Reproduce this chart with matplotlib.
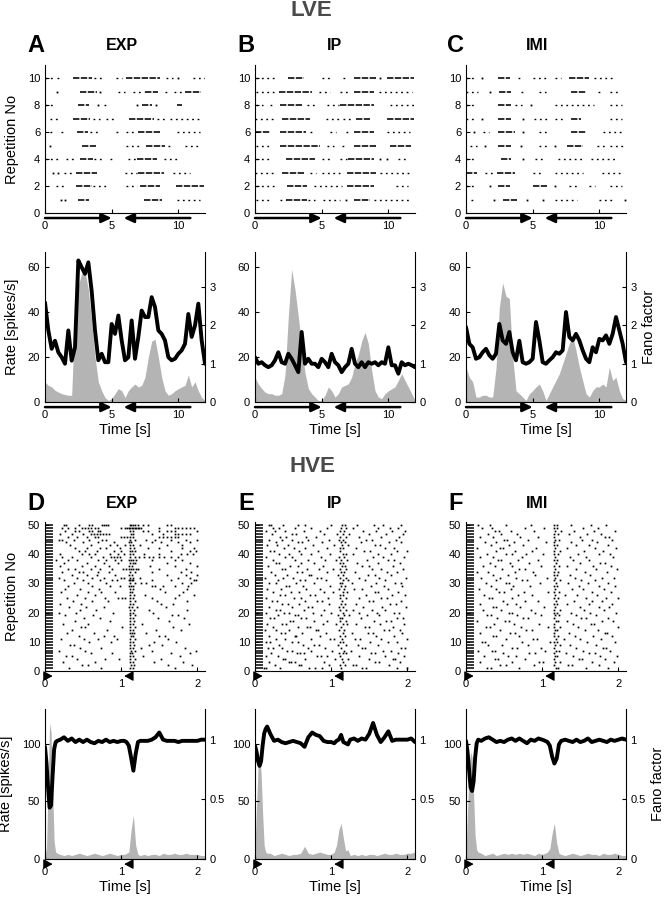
import matplotlib
matplotlib.use("Agg")
import matplotlib.pyplot as plt
import numpy as np

plt.rcParams['font.family'] = ['Liberation Sans', 'DejaVu Sans']
plt.rcParams['axes.linewidth'] = 0.8

# ------------------------------------------------------------------ data
cond_titles = ["EXP", "IP", "IMI"]
lve_letters = ["A", "B", "C"]
hve_letters = ["D", "E", "F"]

# LVE rasters: one string per repetition (1..10); "a-b" dense burst, "a~b" sparse spikes, "a" single spike [s]
lve_raster_exp = [
    "1.2 1.5 2.5-3.3 7.4-8.8 9.9~11.6",
    "0.8~1.6 2.3-3.5 3.6~4.8 6.1~6.9 7.1-8.6 9.8-11.9",
    "0.6 1.0 1.4~2.0 2.3-3.9 6.0~6.9 7.0-8.9 9.6~10.9",
    "0~1.2 1.6~2.3 2.6-3.6 3.7~4.4 4.9~5.2 6.2~6.8 6.9-8.4 8.9~10.1",
    "0.4 2.8-3.8 6.1~7.1 7.6-9.0 9.2~9.6 10.5~11.6",
    "0.4~0.6 1.2~1.6 2.4-3.2 3.4~4.1 5.3~5.5 6.1~6.8 7.0-8.6 9.9~11.6",
    "0.4~1.1 2.1-3.4 3.6~4.1 4.6~5.3 6.3-8.2 8.4~9.1 9.4~11.6",
    "0~0.6 2.5-3.3 4.0 4.4~4.6 6.9 7.3-8.0 8.3 9.9-10.3",
    "0.9 2.6-3.9 4.1 5.5~6.0 6.6~7.4 7.5-8.5 9.0~9.3 9.7~10.3 10.5-11.7",
    "0~0.6 0.9~1.2 2.1-3.5 3.7~4.4 5.3~5.8 6.1-8.6 9.1~9.6 10.0 11.1~12",
]
lve_raster_ip = [
    "0.1~1.1 1.9~2.3 2.3-3.9 4.0~4.5 5.1~6.4 6.8 7.4-8.6 8.9~11.6",
    "0.1~1.5 2.4-3.9 4.4~6.5 6.9-8.9 10.6~11.5",
    "0~1.5 2.0-3.7 4.1~4.6 5.0~6.4 6.9-9.1 9.4~11.6",
    "0.1~1.1 2.3-4.5 5.0~5.6 6.4~6.9 7.0-8.9 9.4 9.9 10.7~11.5",
    "0.1~1.3 1.9-4.9 5.4~5.9 6.5~6.9 7.4-9.1 10.1-11.7",
    "0-1.1 1.9-3.8 4.1~4.4 5.6~6.1 6.8~7.2 7.4-8.9 9.9~11.6",
    "0~1.4 2.0-4.1 5.3~6.3 6.6~7.2 7.6-8.6 9.9-11.9",
    "0.1~0.6 1.1~1.5 1.9-3.5 3.9~4.5 5.4~6.3 6.4-8.9 10.1~11.9",
    "0.1~1.5 1.8-4.3 4.8~5.6 6.4~7.1 7.4-8.9 9.3~11.8",
    "0.1~1.5 2.5-3.7 5.0~5.6 6.6~7.0 7.4-9.1 9.4 9.9-11.9",
]
lve_raster_imi = [
    "0.4~0.7 2.1 2.8-3.8 4.6 5.8 6.7~8.3 10.0~11.0 11.9",
    "0~0.6 1.8 2.4-3.3 5.0-6.1 6.7 7.7~8.3 9.2~9.7 10.8~11.7",
    "0-0.8 1.4~2.1 2.3-3.7 5.0~5.7 6.7~8.8 10.2~11.6",
    "0~0.7 2.6-3.4 4.3 5.2~5.8 6.9~8.9 9.4~11.2",
    "0.3~0.8 1.4 2.4-3.4 4.1 5.5~6.1 6.7 7.6-8.8 9.8~10.6 10.8~11.8",
    "0.6 1.3~1.7 2.4-3.7 4.3 5.5~6.1 7.9-9.0 10.3~11.7",
    "0~0.6 1.2 2.4-3.4 4.3 5.1~6.2 6.7~7.4 7.9-8.6 10.8~11.7",
    "0~0.6 2.4-3.4 3.7~4.2 4.9 6.7~9.6 10.8~11.7",
    "0~0.9 1.8 2.5-3.4 4.1~4.4 5.5~6.0 7.9-9.0 9.9~10.2 10.8~11.4",
    "0~0.6 1.2 2.4-3.3 3.9~4.2 5.0~6.2 6.7~7.1 7.7-9.2 9.6~11.1",
]

# HVE rasters: onset burst window [s] and further spike times [cs] per repetition (1..50)
hve_onset = [(0.01, 0.11), (0.01, 0.10), (0.01, 0.10)]
hve_raster_exp = [
    "31 73 112 116 171", "48 57 113 117 162 193", "23 66 112 115 143 181",
    "42 79 97 111 118 152", "27 36 112 116 129 177", "61 88 111 114 166 190",
    "19 52 113 118 141 198", "46 74 112 116 126 184", "33 38 111 117 137 154",
    "58 86 112 115 143 172", "21 51 69 94 112 118 161", "44 77 91 113 116 149 158",
    "29 64 112 114 117 133", "36 82 112 116 146 179", "47 53 101 112 118 168",
    "24 57 111 116 127 189", "39 85 111 117 163", "51 72 112 115 148 183",
    "26 63 112 118 167 174", "18 41 89 112 116 142", "46 67 112 117 136 187",
    "32 54 78 110 114 121 159", "20 47 112 116 152 168", "37 62 83 112 118 147 186",
    "29 53 79 96 101 105 112 115 141 171", "42 66 112 117 131 176 196",
    "21 57 74 92 111 114 158 181", "26 46 71 112 116 151 187",
    "30 62 85 98 110 113 116 140 145 155 170 188", "38 56 80 112 118 126 132 180 192",
    "25 50 72 88 94 110 112 114 116 140 165 195 198", "18 42 62 78 100 104 112 115 125 175 190",
    "35 55 68 92 110 114 160 185 200", "22 45 50 70 84 112 118 140 178 192",
    "30 40 60 72 88 102 106 110 113 116 119 122 150 185", "20 48 66 84 110 114 138 170 200",
    "25 55 78 96 112 115 118 160 190", "15 30 42 70 80 92 100 110 113 116 120 140 170 180",
    "22 36 60 76 86 90 94 98 112 118 124 130 136 142 150 156 165 175",
    "20 48 58 65 85 96 104 112 116 130 150 178 186 194", "45 52 68 90 100 111 114 118 165 190 198",
    "40 55 72 80 98 112 117 135 150 180 195", "33 60 85 95 105 112 116 125 160 180",
    "28 50 70 90 110 113 140 152 175 190", "18 22 38 58 75 80 112 118 132 145 165 185 200",
    "30 42 55 65 70 100 104 108 112 116 150 155 160 165 170 175",
    "20 35 50 60 64 68 72 76 80 84 113 116 140 155 170 175 180 185 190",
    "26 40 44 58 62 70 72 112 115 128 135 150 160 165 170 200",
    "22 30 40 48 52 56 60 65 70 100 105 108 110 112 114 116 118 120 122 124 126 150 170 175 180 185 190 195",
    "25 28 45 58 62 75 78 80 83 112 113 115 118 122 128 135 160 165",
]
hve_raster_ip = [
    "12 15 33 71 79 88 113 140 146 187 199", "26 58 61 97 111 118 129 133 176",
    "19 44 47 52 90 116 158 163 190", "37 39 66 105 114 122 149 181 184",
    "14 30 81 86 95 112 137 171 196", "21 55 59 64 110 115 119 152 157 188",
    "42 48 73 101 117 126 168 179", "17 24 36 69 92 113 141 144 192 197",
    "31 63 77 84 109 120 135 161", "15 20 49 57 112 116 151 174 186",
    "28 40 74 99 104 114 131 138 166 199", "19 52 54 85 111 118 159 183",
    "34 39 62 93 115 127 148 155 193", "13 27 44 80 83 110 117 169 176 190",
    "23 57 68 72 113 145 150 181", "16 35 41 89 106 116 121 133 164 196",
    "46 50 78 94 112 119 156 172 178", "20 25 60 67 111 114 139 186 194",
    "30 53 56 87 109 117 124 147 163", "14 38 45 76 100 115 136 160 182 189",
    "27 33 64 91 112 120 128 153 171", "18 49 70 75 110 116 142 167 198",
    "36 43 58 97 113 118 132 177 185", "22 29 65 82 88 114 150 155 192",
    "15 51 61 96 111 119 137 165 173", "33 40 72 79 112 116 146 180 197",
    "24 47 58 90 103 115 121 158 162 188", "16 34 67 85 110 117 130 141 175",
    "41 45 63 98 113 118 152 169 193", "19 28 54 77 111 114 127 159 184 191",
    "30 59 66 93 116 122 144 170", "13 37 50 81 87 112 119 136 163 198",
    "26 42 71 74 109 115 148 157 179", "21 55 62 95 113 117 131 173 187",
    "35 39 68 84 102 111 120 154 166 194", "17 46 57 89 114 118 140 149 181",
    "28 31 60 78 112 116 134 161 190", "23 52 69 92 106 113 121 147 175 183",
    "14 40 48 86 110 117 155 168 196", "32 44 61 73 99 115 119 129 162 178",
    "20 25 58 83 112 143 151 186 199", "38 51 65 94 111 116 133 170 182",
    "16 29 43 76 104 114 122 157 164", "27 56 62 88 113 118 139 176 192",
    "19 35 49 70 97 110 115 146 153 185", "33 41 67 80 112 120 137 165 189",
    "22 48 54 91 107 116 124 150 172 194", "15 26 39 64 85 111 117 142 159 180 197",
    "24 31 53 74 95 113 119 128 161 177 188", "18 21 37 57 66 100 114 118 134 156 168 192",
]
hve_raster_imi = [
    "27 33 70 118 121 158 187", "45 52 89 116 134 139 175",
    "18 61 96 101 117 123 166 194", "38 42 77 115 148 152 183",
    "23 55 66 117 120 141 176 198", "49 83 91 116 131 162 169",
    "16 34 38 104 118 122 153 189", "60 67 99 115 145 180 184",
    "29 47 82 117 124 137 171", "21 25 74 110 116 119 159 196",
    "53 88 93 118 128 150 177", "35 40 69 115 121 143 167 191",
    "19 58 64 116 135 182 185", "44 79 86 117 120 156 173",
    "26 31 72 107 115 123 147 199", "37 63 96 116 140 164 168",
    "15 51 56 118 121 132 179 193", "41 75 82 115 151 158 186",
    "28 33 67 98 117 122 144 170", "57 61 90 116 119 138 163 197",
    "22 46 85 115 124 155 181", "36 39 71 103 117 149 174 188",
    "18 54 65 116 120 133 161 192", "48 78 94 118 142 166 178",
    "30 34 60 115 121 157 184 199", "24 68 87 117 130 146 172",
    "43 50 76 108 116 122 165 190", "17 39 59 117 139 153 181",
    "33 62 84 115 120 148 175 195", "26 52 57 97 118 134 160 187",
    "40 73 80 116 123 151 169", "20 45 66 106 117 143 179 194",
    "35 55 91 115 119 137 163", "14 29 64 88 116 121 156 185",
    "47 70 77 117 145 171 198", "22 38 60 99 115 122 132 167 190",
    "31 58 83 118 150 176 183", "42 46 68 95 116 120 141 162",
    "19 35 73 117 136 158 193", "27 52 61 79 101 115 121 147 174 189",
    "39 64 86 116 123 155 180", "15 44 48 92 117 133 169 197",
    "33 57 75 115 120 144 161 186", "25 40 63 105 116 138 172",
    "50 54 81 117 122 152 165 191", "18 36 71 94 115 149 182 188",
    "29 46 67 116 121 135 159 177", "38 43 59 89 117 125 142 168 195",
    "21 34 78 102 115 119 154 173", "16 31 52 85 116 120 138 164 184",
]

# LVE rate / Fano factor, sampled every 0.25 s from 0 to 12 s
lve_t = np.linspace(0, 12, 49)
lve_rate_exp = [8.9, 7.4, 6.7, 5.2, 4.4, 3.7, 3.3, 3.0, 3.0, 40, 52, 57, 58, 50, 36, 20, 9,
                5, 2, 0.7, 1.5, 3.7, 6, 5, 2, 5, 6.7, 8, 6.7, 7.4, 11, 20, 27, 28, 20, 11,
                5, 3, 3.7, 5, 5.9, 6.7, 7.4, 12, 6.7, 9, 5, 2, 0.7]
lve_fano_exp = [2.6, 1.87, 1.39, 1.6, 1.3, 1.17, 1.0, 1.87, 1.08, 1.43, 3.7, 3.52, 3.35, 3.65,
                2.9, 1.87, 1.09, 1.26, 1.04, 1.04, 2.04, 1.78, 2.26, 1.61, 1.09, 1.17, 2.13,
                1.13, 1.70, 2.39, 2.22, 2.22, 2.74, 2.48, 1.87, 1.78, 1.61, 1.17, 1.09, 1.13,
                1.26, 1.35, 1.52, 2.3, 1.70, 2.0, 2.57, 1.61, 1.0]
lve_rate_ip = [11, 8, 6, 4.4, 3.7, 3.7, 3, 3, 3.7, 12, 38, 59, 50, 38, 25, 13, 6,
               3.7, 2.2, 0.7, 0.7, 3, 6.7, 5, 2.2, 3.7, 6.7, 7.4, 8.1, 11, 17, 21, 27,
               31, 26, 14, 5, 2.2, 1.5, 3.7, 5, 5.9, 6.7, 9.6, 12.6, 9.6, 6.7, 3.7, 0.7]
lve_fano_ip = [1.17, 1.0, 1.04, 0.96, 0.91, 0.96, 1.09, 1.3, 1.04, 1.0, 1.26, 1.13, 0.96,
               0.78, 1.83, 1.0, 1.13, 1.0, 1.0, 0.91, 1.13, 1.04, 0.91, 1.26, 1.04, 0.96,
               0.78, 0.91, 1.0, 1.39, 1.0, 0.91, 1.04, 0.91, 1.04, 1.0, 1.04, 0.96, 1.04,
               1.0, 1.43, 0.96, 0.96, 0.74, 1.04, 0.96, 1.0, 0.96, 0.91]
lve_rate_imi = [15.5, 11, 9, 2.2, 2.2, 3, 3, 2.2, 2.2, 15, 42, 53, 47, 46, 20, 5, 3.7,
                2.2, 0.7, 3.7, 5, 6.7, 8, 5, 0.7, 3.7, 6.7, 9.6, 12.6, 17, 21.5, 26, 29,
                23, 15.5, 9.6, 3.7, 2.2, 5, 6.7, 6.7, 8, 6.7, 15.5, 9.6, 11, 5, 1.5, 0.7]
lve_fano_imi = [1.96, 1.52, 1.43, 1.13, 1.17, 1.3, 1.39, 1.22, 1.13, 1.26, 2.04, 1.61,
                1.52, 1.83, 1.30, 1.09, 1.6, 1.04, 1.0, 1.04, 1.13, 2.09, 1.61, 1.04, 1.0,
                1.09, 1.17, 1.30, 1.26, 1.35, 2.35, 1.70, 1.61, 1.78, 1.61, 1.35, 1.13,
                1.04, 1.43, 1.30, 1.65, 1.61, 1.74, 1.52, 1.78, 2.22, 1.87, 1.52, 1.04]

# HVE rate / Fano factor
hve_t = [0, 0.02, 0.04, 0.06, 0.08, 0.1, 0.12, 0.14, 0.16, 0.2, 0.25, 0.3, 0.35, 0.4, 0.45,
         0.5, 0.55, 0.6, 0.65, 0.7, 0.75, 0.8, 0.85, 0.9, 0.95, 1.0, 1.04, 1.07, 1.1, 1.13,
         1.16, 1.19, 1.22, 1.25, 1.3, 1.35, 1.4, 1.45, 1.5, 1.55, 1.6, 1.65, 1.7, 1.75, 1.8,
         1.85, 1.9, 1.95, 2.0, 2.05, 2.1]
hve_rate_exp = [3, 10, 60, 118, 110, 60, 15, 6, 5, 4, 3, 4, 3, 4, 5, 4, 3, 4, 5, 4, 3, 4, 5,
                4, 3, 4, 4, 5, 6, 25, 38, 12, 4, 3, 4, 3, 4, 4, 3, 5, 4, 4, 5, 4, 4, 5, 4, 4,
                4, 3, 3]
hve_fano_exp = [0.94, 0.8, 0.6, 0.43, 0.45, 0.7, 0.92, 0.98, 0.99, 1.0, 1.02, 0.99, 1.01,
                0.98, 1.0, 0.98, 1.0, 0.98, 0.97, 0.99, 0.98, 1.0, 0.98, 0.99, 0.98, 0.99,
                0.99, 0.98, 0.95, 0.85, 0.74, 0.88, 0.98, 0.99, 0.99, 0.99, 1.0, 1.02, 1.06,
                1.0, 0.99, 0.99, 0.99, 0.98, 0.99, 0.99, 0.99, 0.99, 0.99, 1.0, 1.0]
hve_rate_ip = [10, 45, 80, 87, 75, 40, 12, 6, 5, 5, 3, 4, 5, 4, 3, 4, 4, 5, 11, 5, 4, 5, 6,
               5, 4, 4, 6, 12, 25, 31, 18, 7, 8, 3, 4, 3, 4, 3, 4, 4, 3, 4, 5, 4, 4, 5, 4, 4,
               5, 5, 6]
hve_fano_ip = [0.95, 0.9, 0.82, 0.78, 0.82, 0.95, 1.05, 1.09, 1.11, 1.05, 0.99, 1.0, 0.98,
               0.97, 0.98, 0.99, 0.98, 0.97, 0.94, 1.02, 1.06, 1.04, 1.03, 0.99, 0.98, 0.98,
               0.97, 0.99, 1.0, 1.04, 0.98, 0.97, 0.96, 1.0, 1.01, 0.99, 1.01, 1.0, 1.05, 1.14,
               1.04, 0.98, 1.02, 1.07, 0.99, 1.0, 1.0, 1.0, 1.0, 1.01, 0.98]
hve_rate_imi = [8, 40, 80, 93, 88, 55, 20, 8, 6, 5, 3, 4, 5, 3, 4, 5, 4, 5, 4, 5, 4, 5, 4,
                3, 5, 4, 5, 6, 9, 22, 31, 14, 5, 4, 3, 4, 5, 4, 3, 4, 5, 4, 4, 3, 5, 4, 4, 5,
                4, 3, 3]
hve_fano_imi = [0.99, 0.9, 0.75, 0.6, 0.57, 0.65, 0.85, 0.97, 1.0, 0.99, 1.01, 1.02, 1.0,
                0.98, 0.99, 0.98, 1.0, 1.01, 0.99, 1.01, 0.99, 0.97, 1.0, 0.99, 1.01, 1.0,
                0.99, 0.98, 0.95, 0.86, 0.8, 0.84, 0.96, 0.99, 1.0, 0.99, 0.98, 1.0, 0.98,
                0.99, 1.01, 0.98, 0.99, 1.0, 0.99, 0.98, 1.0, 0.99, 1.0, 1.01, 1.0]

# stimulus direction arrows (start, end) in s
lve_arrows = [(0.0, 5.0), (10.9, 5.9)]
hve_arrows = [(0.0, 0.1), (1.15, 1.04)]

# ------------------------------------------------------------------ layout helpers
W, H = 665.0, 899.0
fig = plt.figure(figsize=(6.65, 8.99), dpi=100)
GRAY = '#b4b4b4'
TICK_FS = 8
LAB_FS = 10.5


def px_axes(left, top, w, h):
    return fig.add_axes([left / W, 1 - (top + h) / H, w / W, h / H])


def style(ax):
    for s in ['top', 'right']:
        ax.spines[s].set_visible(False)
    ax.tick_params(direction='in', length=3, width=0.8, labelsize=TICK_FS, pad=3.5)
    ax.tick_params(axis='x', pad=6)


def arrows(ax, spans, big):
    y = -0.034
    if big:
        st = '-|>,head_length=0.6,head_width=0.28'
        lw = 1.8
    else:
        st = '-|>,head_length=0.55,head_width=0.3'
        lw = 0.8
    for a, b in spans:
        ax.annotate('', xy=(b, y), xytext=(a, y),
                    xycoords=('data', 'axes fraction'), textcoords=('data', 'axes fraction'),
                    annotation_clip=False,
                    arrowprops=dict(arrowstyle=st, lw=lw, color='k', shrinkA=0, shrinkB=0))


def parse_segments(s):
    out = []
    for tok in s.split():
        if '-' in tok:
            a, b = tok.split('-')
            out.append(('d', float(a), float(b)))
        elif '~' in tok:
            a, b = tok.split('~')
            out.append(('s', float(a), float(b)))
        else:
            out.append(('p', float(tok), float(tok)))
    return out


def lve_raster(ax, trials):
    for i, s in enumerate(trials):
        rep = i + 1
        for kind, a, b in parse_segments(s):
            if kind == 'd':
                ax.plot([a, b], [rep, rep], color='k', lw=1.15, ls=(0, (4, 0.9)),
                        dash_capstyle='butt')
            elif kind == 's':
                ax.plot([a, b], [rep, rep], color='k', lw=1.0, ls=(0, (1.3, 2.6)),
                        dash_capstyle='butt')
            else:
                ax.plot([a], [rep], 's', color='k', ms=1.3, mew=0)
    ax.set_xlim(0, 12)
    ax.set_ylim(0, 11)
    ax.set_xticks([0, 5, 10])
    ax.set_yticks([0, 2, 4, 6, 8, 10])


def hve_raster(ax, trials, onset):
    for i, s in enumerate(trials):
        rep = i + 1
        ax.plot([onset[0], onset[1]], [rep, rep], color='k', lw=1.1, solid_capstyle='butt')
        times = [float(v) / 100.0 for v in s.split()]
        ax.plot(times, [rep] * len(times), 's', color='k', ms=1.25, mew=0)
    ax.set_xlim(0, 2.1)
    ax.set_ylim(0, 51)
    ax.set_xticks([0, 1, 2])
    ax.set_yticks([0, 10, 20, 30, 40, 50])


def rate_panel(ax, t, rate, fano, xlim, ylim_l, ylim_r, yt_l, yt_r, xt, fano_label):
    ax.fill_between(t, 0, rate, color=GRAY, lw=0)
    ax.set_xlim(*xlim)
    ax.set_ylim(*ylim_l)
    ax.set_xticks(xt)
    ax.set_yticks(yt_l)
    style(ax)
    ax2 = ax.twinx()
    ax2.plot(t, fano, color='k', lw=2.8, solid_joinstyle='round', solid_capstyle='round')
    ax2.set_ylim(*ylim_r)
    ax2.set_yticks(yt_r)
    ax2.set_yticklabels([('%g' % v) for v in yt_r])
    for s in ['top', 'left', 'bottom']:
        ax2.spines[s].set_visible(False)
    ax2.tick_params(axis='y', direction='in', length=3, width=0.8, labelsize=TICK_FS, pad=3)
    ax.set_xlabel('Time [s]', fontsize=LAB_FS, labelpad=2)
    if fano_label:
        ax2.set_ylabel('Fano factor', fontsize=LAB_FS, labelpad=4)
    return ax2


# ------------------------------------------------------------------ draw
cols = [45, 255, 466]
pw = 160
lve_rasters = [lve_raster_exp, lve_raster_ip, lve_raster_imi]
hve_rasters = [hve_raster_exp, hve_raster_ip, hve_raster_imi]
lve_rates = [lve_rate_exp, lve_rate_ip, lve_rate_imi]
lve_fanos = [lve_fano_exp, lve_fano_ip, lve_fano_imi]
hve_rates = [hve_rate_exp, hve_rate_ip, hve_rate_imi]
hve_fanos = [hve_fano_exp, hve_fano_ip, hve_fano_imi]

for k in range(3):
    x0 = cols[k]
    ax = px_axes(x0, 65, pw, 148)
    lve_raster(ax, lve_rasters[k])
    style(ax)
    arrows(ax, lve_arrows, True)
    if k == 0:
        ax.set_ylabel('Repetition No', fontsize=LAB_FS, labelpad=6)
    ax = px_axes(x0, 252, pw, 150)
    rate_panel(ax, lve_t, lve_rates[k], lve_fanos[k], (0, 12), (0, 66.7), (0, 3.92),
               [0, 20, 40, 60], [0, 1, 2, 3], [0, 5, 10], k == 2)
    arrows(ax, lve_arrows, True)
    if k == 0:
        ax.set_ylabel('Rate [spikes/s]', fontsize=LAB_FS, labelpad=6)
    ax = px_axes(x0, 522, pw, 149)
    hve_raster(ax, hve_rasters[k], hve_onset[k])
    style(ax)
    arrows(ax, hve_arrows, False)
    if k == 0:
        ax.set_ylabel('Repetition No', fontsize=LAB_FS, labelpad=6)
    ax = px_axes(x0, 709, pw, 150)
    rate_panel(ax, hve_t, hve_rates[k], hve_fanos[k], (0, 2.1), (0, 130), (0, 1.257),
               [0, 50, 100], [0, 0.5, 1], [0, 1, 2], k == 2)
    arrows(ax, hve_arrows, False)
    if k == 0:
        ax.set_ylabel('Rate [spikes/s]', fontsize=LAB_FS, labelpad=6)

# ------------------------------------------------------------------ texts
letter_x = [36, 246, 456]
title_x = [122, 335, 537]
for k in range(3):
    fig.text(letter_x[k] / W, 1 - 45 / H, lve_letters[k], fontsize=17, weight='bold',
             ha='center', va='center')
    fig.text(title_x[k] / W, 1 - 46 / H, cond_titles[k], fontsize=11.5, weight='bold',
             ha='center', va='center')
    fig.text(letter_x[k] / W, 1 - 503 / H, hve_letters[k], fontsize=17, weight='bold',
             ha='center', va='center')
    fig.text(title_x[k] / W, 1 - 503 / H, cond_titles[k], fontsize=11.5, weight='bold',
             ha='center', va='center')

fig.text(311 / W, 1 - 11 / H, 'LVE', fontsize=16, weight='bold', color='#4a4a4a',
         ha='center', va='center')
fig.text(312 / W, 1 - 467 / H, 'HVE', fontsize=16, weight='bold', color='#4a4a4a',
         ha='center', va='center')

fig.savefig('out.png', dpi=100)
